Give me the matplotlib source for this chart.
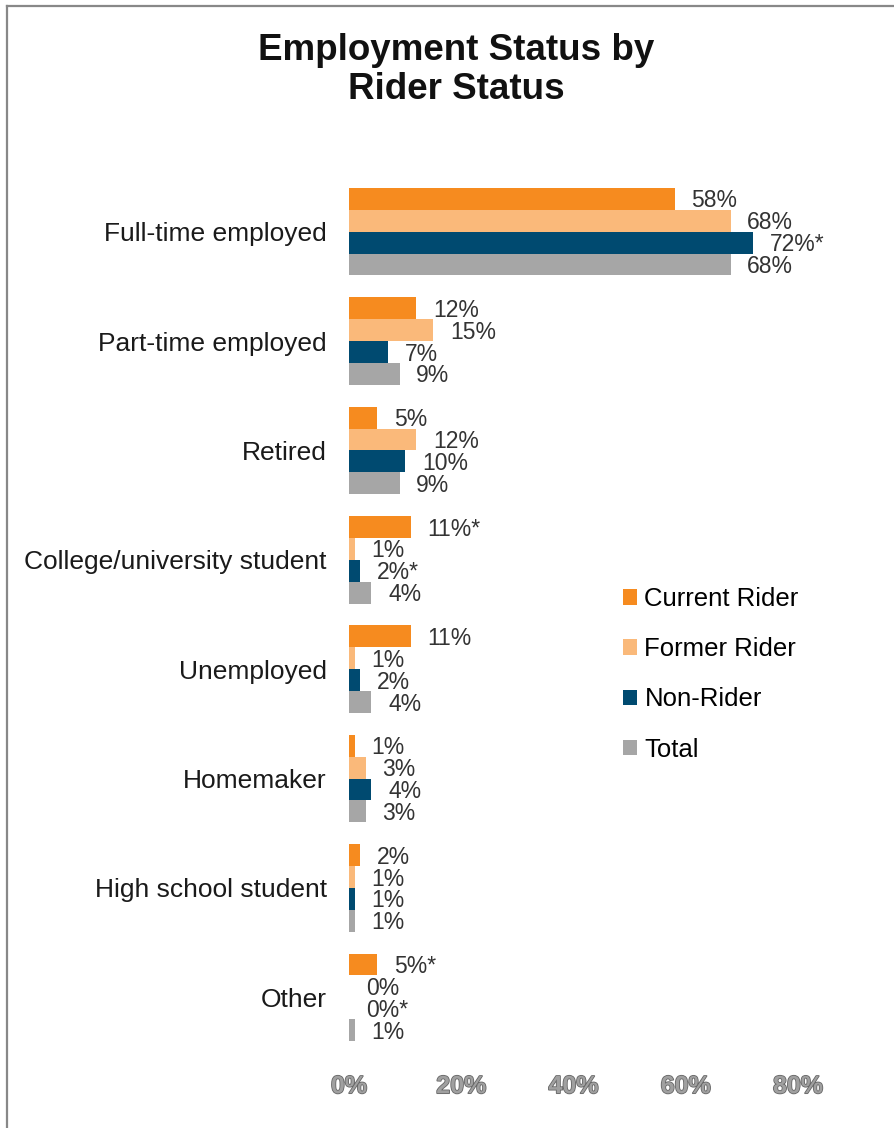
import numpy as np
import matplotlib.pyplot as plt
import matplotlib.patheffects as pe
from matplotlib.lines import Line2D

plt.rcParams['font.family'] = ['Liberation Sans', 'DejaVu Sans']

# categories, top to bottom
categories = ['Full-time employed', 'Part-time employed', 'Retired',
              'College/university student', 'Unemployed', 'Homemaker',
              'High school student', 'Other']

series = ['Current Rider', 'Former Rider', 'Non-Rider', 'Total']
current = [58, 12, 5, 11, 11, 1, 2, 5]
former = [68, 15, 12, 1, 1, 3, 1, 0]
non_rider = [72, 7, 10, 2, 2, 4, 1, 0]
total = [68, 9, 9, 4, 4, 3, 1, 1]

# significance markers on the value labels
current_mark = ['', '', '', '*', '', '', '', '*']
former_mark = ['', '', '', '', '', '', '', '']
non_rider_mark = ['*', '', '', '*', '', '', '', '*']
total_mark = ['', '', '', '', '', '', '', '']

colors = ['#F68B1F', '#FAB97A', '#004A70', '#A6A6A6']
ticks = [0, 20, 40, 60, 80]

fig = plt.figure(figsize=(8.94, 11.28), dpi=100)
ax = fig.add_axes([0.3904, 0.0674, 0.5022, 0.7757])

y = np.arange(len(categories))
h = 0.2
offsets = [-0.3, -0.1, 0.1, 0.3]
values = [current, former, non_rider, total]
marks = [current_mark, former_mark, non_rider_mark, total_mark]

for vals, mk, off, col, name in zip(values, marks, offsets, colors, series):
    bars = ax.barh(y + off, vals, height=h, color=col, label=name)
    for b, v, m in zip(bars, vals, mk):
        ax.annotate(f'{v}%{m}', (b.get_width(), b.get_y() + h / 2),
                    xytext=(12, -1.5), textcoords='offset points',
                    ha='left', va='center', fontsize=16.5, color='#333333',
                    annotation_clip=False)

ax.set_ylim(len(categories) - 0.5, -0.5)
ax.set_xlim(0, 80)
ax.set_yticks(y)
ax.set_yticklabels(categories, fontsize=19, color='#1a1a1a')
ax.set_xticks(ticks)
ax.set_xticklabels([f'{t}%' for t in ticks], fontsize=18, color='#a0a0a0',
                   fontweight='bold')
for lbl in ax.get_xticklabels():
    lbl.set_path_effects([pe.withStroke(linewidth=1.2, foreground='#666666')])
ax.tick_params(axis='y', length=0, pad=16)
ax.tick_params(axis='x', length=0, pad=16)
for s in ax.spines.values():
    s.set_visible(False)

fig.text(0.51, 1 - 70 / 1128, 'Employment Status by\nRider Status',
         ha='center', va='center', fontsize=26.5, fontweight='bold',
         linespacing=1.15, color='#111111')

fig.legend(loc='upper left', bbox_to_anchor=(0.682, 0.491), frameon=False,
           fontsize=18.5, handlelength=0.55, handleheight=0.55,
           handletextpad=0.3, labelspacing=1.02, borderpad=0)

# outer frame, left and top edges only
fig.add_artist(Line2D([7 / 894, 7 / 894], [0, 1 - 6 / 1128],
                      transform=fig.transFigure, color='#888888', lw=1.6))
fig.add_artist(Line2D([7 / 894, 1], [1 - 6 / 1128, 1 - 6 / 1128],
                      transform=fig.transFigure, color='#888888', lw=1.6))

fig.savefig('out.png', dpi=100)
